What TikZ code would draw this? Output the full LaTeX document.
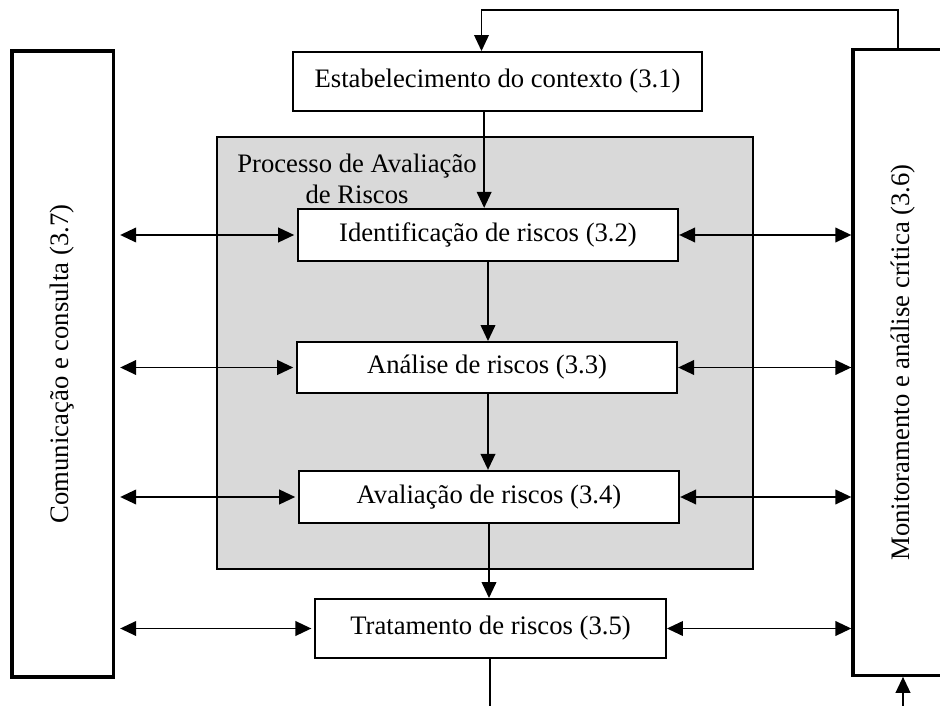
\documentclass[tikz,border=0pt]{standalone}
\usepackage{fontspec}
\setmainfont{Liberation Serif}
\usepackage{tikz}
\usetikzlibrary{arrows.meta}

\definecolor{fundo}{HTML}{D9D9D9}
\tikzset{
  caixa/.style={draw,line width=1.7pt,fill=white,inner sep=0pt,align=center},
  lateral/.style={draw,line width=2.5pt,fill=white,inner sep=0pt},
  seta/.style={line width=1.3pt,-{Triangle[length=12pt,width=11pt]}},
  seta2/.style={line width=1.3pt,{Triangle[length=12pt,width=11pt]}-{Triangle[length=12pt,width=11pt]}}
}

\begin{document}
\begin{tikzpicture}[x=0.75pt,y=-0.75pt,font=\fontsize{20}{23}\selectfont]
  \useasboundingbox (0,0) rectangle (940,706);
  \clip (0,0) rectangle (940,706);
  % bloco cinza
  \node[draw,line width=1.3pt,fill=fundo,minimum width=402pt,minimum height=324pt] (proc) at (485,353) {};
  \node[align=center,inner sep=0pt] (proc-tit) at (357,179) {Processo de Avaliação\\de Riscos};
  % blocos laterais
  \node[lateral,minimum width=76pt,minimum height=469.5pt] (com) at (62.5,364) {};
  \node[rotate=90] at (com.center) {Comunicação e consulta (3.7)};
  \node[lateral,minimum width=75pt,minimum height=469pt] (mon) at (903,362.5) {};
  \node[rotate=90] at (mon.center) {Monitoramento e análise crítica (3.6)};
  % etapas
  \node[caixa,minimum width=307pt,minimum height=44pt] (ctx) at (497.5,81.5) {Estabelecimento do contexto (3.1)};
  \node[caixa,minimum width=285pt,minimum height=39pt] (idr) at (488,235) {Identificação de riscos (3.2)};
  \node[caixa,minimum width=285pt,minimum height=38pt] (anr) at (487,367.5) {Análise de riscos (3.3)};
  \node[caixa,minimum width=285pt,minimum height=39pt] (avr) at (489,497) {Avaliação de riscos (3.4)};
  \node[caixa,minimum width=263pt,minimum height=44pt] (trr) at (490.5,628.5) {Tratamento de riscos (3.5)};
  \coordinate (fim) at (490,706);
  \coordinate (ini) at (903,706);
  % fluxo principal
  \draw[seta,line width=1.1pt] ([xshift=-3.75pt]mon.north) -- ++(0,-38) -| ([xshift=-12pt]ctx.north);
  \draw[seta] ([xshift=-10pt]ctx.south) -- ([xshift=-10pt]ctx.south |- idr.north);
  \draw[seta] (idr.south) -- (idr.south |- anr.north);
  \draw[seta] ([xshift=0.75pt]anr.south) -- ([xshift=0.75pt]anr.south |- avr.north);
  \draw[seta] (avr.south) -- (avr.south |- trr.north);
  \draw[line width=1.3pt] (trr.south -| fim) -- (fim);
  \draw[seta] (ini) -- (mon.south);
  % ligacoes laterais
  \foreach \etapa in {idr,anr,avr,trr} {
    \draw[seta2,shorten <=4pt,shorten >=2pt] (com.east |- \etapa.west) -- (\etapa.west);
    \draw[seta2] (\etapa.east) -- (mon.west |- \etapa.east);
  }
\end{tikzpicture}
\end{document}
